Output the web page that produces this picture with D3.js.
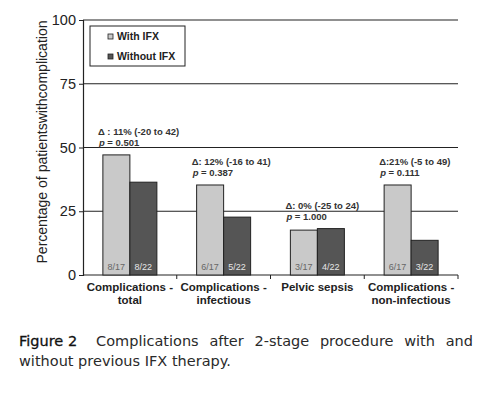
<!DOCTYPE html>
<html>
<head>
<meta charset="utf-8">
<script src="https://cdn.jsdelivr.net/npm/d3@7"></script>
<style>
  body { margin: 0; background: #fff; }
  svg { display: block; }
</style>
</head>
<body>
<div id="chart-container"></div>
<script>
// data
const categories = ['Complications - total', 'Complications - infectious', 'Pelvic sepsis', 'Complications - non-infectious'];
const catLines = [['Complications -', 'total'], ['Complications -', 'infectious'], ['Pelvic sepsis'], ['Complications -', 'non-infectious']];
const seriesNames = ['With IFX', 'Without IFX'];
const withIFX = [47.1, 35.3, 17.6, 35.3];
const withoutIFX = [36.4, 22.7, 18.2, 13.6];
const withLabels = ['8/17', '6/17', '3/17', '6/17'];
const withoutLabels = ['8/22', '5/22', '4/22', '3/22'];
const deltaLabels = ['\u0394 : 11% (-20 to 42)', '\u0394: 12% (-16 to 41)', '\u0394: 0% (-25 to 24)', '\u0394:21% (-5 to 49)'];
const pLabels = ['0.501', '0.387', '1.000', '0.111'];
const yTicks = [0, 25, 50, 75, 100];

const W = 490, H = 395;
const margin = {top: 20, right: 32, bottom: 120, left: 83};
const width = W - margin.left - margin.right;
const height = H - margin.top - margin.bottom;

const svg = d3.select('#chart-container')
    .append('svg')
    .attr('width', W)
    .attr('height', H)
    .style('font-family', 'Arial, "Liberation Sans", sans-serif');

const g = svg.append('g')
    .attr('transform', `translate(${margin.left}, ${margin.top})`);

const x = d3.scaleBand()
    .domain(categories)
    .range([0, width]);

const y = d3.scaleLinear()
    .domain([0, 100])
    .range([height, 0]);

const barW = 27;
const colors = ['#c9c9c9', '#555555'];

// gridlines
g.append('g')
    .selectAll('line')
    .data(yTicks.filter((d) => d > 0))
    .enter()
    .append('line')
    .attr('x1', 0)
    .attr('x2', width)
    .attr('y1', (d) => y(d))
    .attr('y2', (d) => y(d))
    .attr('stroke', '#222')
    .attr('stroke-width', 1.2);

// y axis
const yAxis = g.append('g')
    .call(d3.axisLeft(y).tickValues(yTicks).tickSize(4).tickPadding(3));
yAxis.select('.domain').attr('stroke', '#222').attr('stroke-width', 1.2);
yAxis.selectAll('.tick line').attr('stroke', '#222');
yAxis.selectAll('text')
    .attr('font-size', '14.5px')
    .attr('fill', '#222');

// x axis with ticks between categories
const xAxis = g.append('g')
    .attr('transform', `translate(0, ${height})`);
xAxis.append('line')
    .attr('x1', 0).attr('x2', width)
    .attr('stroke', '#222').attr('stroke-width', 1.2);
xAxis.selectAll('.sep')
    .data(categories)
    .enter()
    .append('line')
    .attr('class', 'sep')
    .attr('x1', (d) => x(d) + x.bandwidth())
    .attr('x2', (d) => x(d) + x.bandwidth())
    .attr('y1', 0).attr('y2', 4)
    .attr('stroke', '#222');

// category labels
categories.forEach(function(c, i) {
  const t = xAxis.append('text')
      .attr('text-anchor', 'middle')
      .attr('font-size', '11.5px')
      .attr('font-weight', 'bold')
      .attr('fill', '#222');
  catLines[i].forEach(function(line, j) {
    t.append('tspan')
        .attr('x', x(c) + x.bandwidth() / 2)
        .attr('y', 16 + j * 13)
        .text(line);
  });
});

// bars
const series = [withIFX, withoutIFX];
const barLabels = [withLabels, withoutLabels];
series.forEach(function(vals, s) {
  const bars = g.append('g');
  bars.selectAll('rect')
      .data(vals)
      .enter()
      .append('rect')
      .attr('x', (d, i) => x(categories[i]) + x.bandwidth() / 2 - barW + s * barW)
      .attr('y', (d) => y(d))
      .attr('width', barW)
      .attr('height', (d) => y(0) - y(d))
      .attr('fill', colors[s])
      .attr('stroke', '#222')
      .attr('stroke-width', 1);
  bars.selectAll('text')
      .data(barLabels[s])
      .enter()
      .append('text')
      .attr('x', (d, i) => x(categories[i]) + x.bandwidth() / 2 - barW / 2 + s * barW)
      .attr('y', y(0) - 5)
      .attr('text-anchor', 'middle')
      .attr('font-size', '9px')
      .attr('fill', s === 0 ? '#666' : '#e6e6e6')
      .text((d) => d);
});

// delta / p annotations, placed above the taller bar
categories.forEach(function(c, i) {
  const top = y(Math.max(withIFX[i], withoutIFX[i]));
  const ax = x(c) + x.bandwidth() / 2 - barW - 5;
  g.append('text')
      .attr('x', ax)
      .attr('y', top - 20)
      .attr('font-size', '9.5px')
      .attr('font-weight', 'bold')
      .attr('fill', '#333')
      .text(deltaLabels[i]);
  const p = g.append('text')
      .attr('x', ax + 1)
      .attr('y', top - 9)
      .attr('font-size', '9.5px')
      .attr('font-weight', 'bold')
      .attr('fill', '#333');
  p.append('tspan').attr('font-style', 'italic').text('p');
  p.append('tspan').text(' = ' + pLabels[i]);
});

// legend
const legend = g.append('g').attr('transform', 'translate(7, 6)');
legend.append('rect')
    .attr('width', 95).attr('height', 40)
    .attr('fill', '#fff')
    .attr('stroke', '#222').attr('stroke-width', 1);
seriesNames.forEach(function(name, i) {
  legend.append('rect')
      .attr('x', 18).attr('y', 8 + i * 20)
      .attr('width', 5).attr('height', 5)
      .attr('fill', colors[i])
      .attr('stroke', '#222').attr('stroke-width', 0.8);
  legend.append('text')
      .attr('x', 27).attr('y', 14 + i * 20)
      .attr('font-size', '10.5px')
      .attr('font-weight', 'bold')
      .attr('fill', '#222')
      .text(name);
});

// y axis title
svg.append('text')
    .attr('transform', `translate(47, ${margin.top + 122}) rotate(-90)`)
    .attr('text-anchor', 'middle')
    .attr('font-size', '15px')
    .attr('textLength', 243)
    .attr('lengthAdjust', 'spacingAndGlyphs')
    .attr('fill', '#222')
    .text('Percentage of patientswithcomplication');

// caption (justified first line)
const cap = svg.append('g')
    .style('font-family', '"DejaVu Sans", Verdana, sans-serif')
    .attr('font-size', '14.5px')
    .attr('fill', '#2a2a2a');
const capWords = ['Complications', 'after', '2-stage', 'procedure', 'with', 'and'];
const fig = cap.append('text')
    .attr('x', 19).attr('y', 346)
    .attr('fill', '#111')
    .attr('stroke', '#111')
    .attr('stroke-width', 0.3)
    .text('Figure 2');
const left = 19 + fig.node().getComputedTextLength() + 19;
const right = 473;
const words = capWords.map((w) => cap.append('text').attr('y', 346).text(w));
const total = d3.sum(words, (w) => w.node().getComputedTextLength());
const gap = (right - left - total) / (words.length - 1);
let cx = left;
words.forEach(function(w) {
  w.attr('x', cx);
  cx += w.node().getComputedTextLength() + gap;
});
cap.append('text')
    .attr('x', 19).attr('y', 366)
    .text('without previous IFX therapy.');
</script>
</body>
</html>
